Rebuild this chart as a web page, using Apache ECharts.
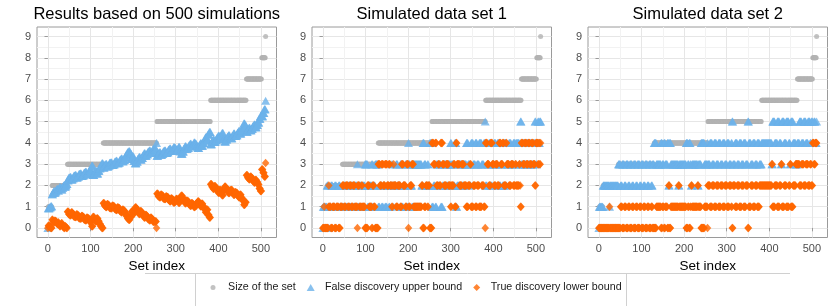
<!DOCTYPE html>
<html><head><meta charset="utf-8">
<script src="https://cdn.jsdelivr.net/npm/echarts@6/dist/echarts.min.js"></script>
<style>html,body{margin:0;padding:0;background:#fff}#c{width:839px;height:306px}</style>
</head><body><div id="c"></div>
<script>
// ---------- data (runs of [value, count] along the set index 0..511) ----------
const panelTitles = ['Results based on 500 simulations', 'Simulated data set 1', 'Simulated data set 2'];
const seriesNames = ['Size of the set', 'False discovery upper bound', 'True discovery lower bound'];
const xTicks = [0, 100, 200, 300, 400, 500];
const xMinor = [50, 150, 250, 350, 450];
const yTicks = [0, 1, 2, 3, 4, 5, 6, 7, 8, 9];
const yMinor = [0.5, 1.5, 2.5, 3.5, 4.5, 5.5, 6.5, 7.5, 8.5];

const sizeRuns = [[0,1],[1,9],[2,36],[3,84],[4,126],[5,126],[6,84],[7,36],[8,9],[9,1]];

const p1Blue = [[0,1],
 [0.92,3],[0.97,3],[1.02,3],
 [1.58,2],[1.66,2],[1.74,2],[1.66,2],[1.71,2],[1.79,2],[1.84,2],[1.76,2],[1.84,2],[1.92,2],[1.89,2],[1.81,2],[1.89,2],[1.97,2],[2.02,2],[1.94,2],[1.99,2],[2.07,2],
 [2.24,3],[2.36,3],[2.4,3],[2.28,3],[2.34,3],[2.46,3],[2.49,3],[2.37,3],[2.42,3],[2.54,3],[2.56,3],[2.44,3],[2.48,3],[2.6,3],[2.64,3],[2.52,3],[2.56,3],[2.68,3],[2.7,3],[2.92,3],[2.49,3],[2.61,3],[2.68,3],[2.56,3],[2.69,3],[2.81,3],[2.92,3],[3.04,3],
 [2.84,3],[2.96,3],[3.01,3],[2.89,3],[2.94,3],[3.06,3],[3.08,3],[2.96,3],[2.99,3],[3.11,3],[3.16,3],[3.04,3],[3.08,3],[3.2,3],[3.26,3],[3.14,3],[3.19,3],[3.31,3],[3.44,3],[3.56,3],[3.61,3],[3.49,3],[3.24,3],[3.36,3],[3.16,3],[3.04,3],[3.12,3],[3.24,3],[3.34,3],[3.22,3],[3.29,3],[3.41,3],[3.51,3],[3.39,3],[3.46,3],[3.58,3],[3.64,3],[3.52,3],[3.59,3],[3.71,3],[3.7,5],[4.0,1],
 [3.39,3],[3.51,3],[3.56,3],[3.44,3],[3.49,3],[3.61,3],[3.64,3],[3.52,3],[3.56,3],[3.68,3],[3.74,3],[3.62,3],[3.68,3],[3.8,3],[3.76,3],[3.64,3],[3.69,3],[3.81,3],[3.61,3],[3.49,3],[3.59,3],[3.71,3],[3.84,3],[3.72,3],[3.76,3],[3.88,3],[3.96,3],[3.84,3],[3.9,3],[4.02,3],[3.96,3],[3.84,3],[3.76,3],[3.88,3],[3.98,3],[3.86,3],[3.99,3],[4.11,3],[4.26,3],[4.14,3],[4.39,3],[4.51,3],
 [3.94,3],[4.06,3],[4.16,3],[4.04,3],[4.12,3],[4.24,3],[4.34,3],[4.22,3],[4.34,3],[4.46,3],[4.18,3],[4.06,3],[4.16,3],[4.28,3],[4.36,3],[4.24,3],[4.22,3],[4.34,3],[4.44,3],[4.32,3],[4.36,3],[4.48,3],[4.56,3],[4.44,3],[4.59,3],[4.71,3],[4.91,3],[4.79,3],
 [4.52,3],[4.64,3],[4.71,3],[4.59,3],[4.66,3],[4.78,3],[4.86,3],[4.74,3],[4.84,3],[4.96,3],[5.14,3],[5.26,3],
 [5.25,3],[5.4,3],[5.58,3],
 [5.98,1]];
const p1Orange = [[0,1],
 [0.1,3],[0.05,3],[0.0,3],
 [0.39,2],[0.31,2],[0.26,2],[0.34,2],[0.32,2],[0.24,2],[0.18,2],[0.26,2],[0.16,2],[0.08,2],[0.14,2],[0.22,2],[0.12,2],[0.04,2],[0.0,2],[0.08,2],[0.03,2],[0.0,2],
 [0.76,3],[0.64,3],[0.6,3],[0.72,3],[0.66,3],[0.54,3],[0.51,3],[0.63,3],[0.58,3],[0.46,3],[0.44,3],[0.56,3],[0.52,3],[0.4,3],[0.36,3],[0.48,3],[0.44,3],[0.32,3],[0.3,3],[0.08,3],[0.51,3],[0.39,3],[0.32,3],[0.44,3],[0.31,3],[0.19,3],[0.08,3],[0.0,3],
 [1.16,3],[1.04,3],[0.99,3],[1.11,3],[1.06,3],[0.94,3],[0.92,3],[1.04,3],[1.01,3],[0.89,3],[0.84,3],[0.96,3],[0.92,3],[0.8,3],[0.74,3],[0.86,3],[0.81,3],[0.69,3],[0.56,3],[0.44,3],[0.39,3],[0.51,3],[0.76,3],[0.64,3],[0.84,3],[0.96,3],[0.88,3],[0.76,3],[0.66,3],[0.78,3],[0.71,3],[0.59,3],[0.49,3],[0.61,3],[0.54,3],[0.42,3],[0.36,3],[0.48,3],[0.41,3],[0.29,3],[0.3,5],[0.0,1],
 [1.61,3],[1.49,3],[1.44,3],[1.56,3],[1.51,3],[1.39,3],[1.36,3],[1.48,3],[1.44,3],[1.32,3],[1.26,3],[1.38,3],[1.32,3],[1.2,3],[1.24,3],[1.36,3],[1.31,3],[1.19,3],[1.39,3],[1.51,3],[1.41,3],[1.29,3],[1.16,3],[1.28,3],[1.24,3],[1.12,3],[1.04,3],[1.16,3],[1.1,3],[0.98,3],[1.04,3],[1.16,3],[1.24,3],[1.12,3],[1.02,3],[1.14,3],[1.01,3],[0.89,3],[0.74,3],[0.86,3],[0.61,3],[0.49,3],
 [2.06,3],[1.94,3],[1.84,3],[1.96,3],[1.88,3],[1.76,3],[1.66,3],[1.78,3],[1.66,3],[1.54,3],[1.82,3],[1.94,3],[1.84,3],[1.72,3],[1.64,3],[1.76,3],[1.78,3],[1.66,3],[1.56,3],[1.68,3],[1.64,3],[1.52,3],[1.44,3],[1.56,3],[1.41,3],[1.29,3],[1.09,3],[1.21,3],
 [2.48,3],[2.36,3],[2.29,3],[2.41,3],[2.34,3],[2.22,3],[2.14,3],[2.26,3],[2.16,3],[2.04,3],[1.86,3],[1.74,3],
 [2.75,3],[2.6,3],[2.42,3],
 [3.05,1]];

const p2Blue = [[0,1],
 [1,2],[0,1],[1,6],
 [2,3],[1,1],[0,1],[1,4],[2,4],[1,5],[2,4],[1,5],[2,4],[1,5],
 [1,4],[2,4],[1,5],[2,4],[1,4],[2,4],[1,4],[2,6],[3,1],[1,4],[2,5],[1,2],[2,6],[3,6],[1,4],[2,6],[3,2],[1,3],[2,3],[3,7],
 [1,4],[2,4],[1,4],[2,4],[1,5],[2,4],[1,3],[2,4],[3,2],[2,2],[1,1],[2,5],[3,4],[2,6],[3,3],[1,4],[2,5],[3,3],[1,4],[4,1],[3,3],[2,4],[1,4],[3,19],[2,3],[4,3],[3,4],[2,4],[3,2],[2,3],[4,5],
 [1,4],[2,4],[1,3],[3,4],[2,3],[3,3],[1,4],[2,4],[3,5],[2,5],[3,5],[4,2],[3,5],[2,3],[4,3],[1,2],[2,6],[3,5],[2,5],[3,6],[4,4],[3,5],[2,2],[4,5],[3,5],[4,4],[3,5],[4,6],[3,5],[4,3],[5,1],
 [2,4],[3,4],[4,4],[2,4],[3,4],[4,4],[3,4],[4,4],[2,4],[3,4],[2,3],[4,5],[2,2],[3,5],[4,5],[3,5],[4,5],[3,2],[4,7],[3,2],[4,1],[5,2],
 [3,4],[4,4],[3,4],[4,4],[3,4],[4,4],[3,4],[4,4],[5,2],[3,2],
 [4,3],[5,2],[4,2],[5,2],
 [5,1]];
const p2Orange = [[0,1],
 [0,2],[1,1],[0,6],
 [0,3],[1,1],[2,1],[1,4],[0,4],[1,5],[0,4],[1,5],[0,4],[1,5],
 [2,4],[1,4],[2,5],[1,4],[2,4],[1,4],[2,4],[1,6],[0,1],[2,4],[1,5],[2,2],[1,6],[0,6],[2,4],[1,6],[0,2],[2,3],[1,3],[0,7],
 [3,4],[2,4],[3,4],[2,4],[3,5],[2,4],[3,3],[2,4],[1,2],[2,2],[3,1],[2,5],[1,4],[2,6],[1,3],[3,4],[2,5],[1,3],[3,4],[0,1],[1,3],[2,4],[3,4],[1,19],[2,3],[0,3],[1,4],[2,4],[1,2],[2,3],[0,5],
 [4,4],[3,4],[4,3],[2,4],[3,3],[2,3],[4,4],[3,4],[2,5],[3,5],[2,5],[1,2],[2,5],[3,3],[1,3],[4,2],[3,6],[2,5],[3,5],[2,6],[1,4],[2,5],[3,2],[1,5],[2,5],[1,4],[2,5],[1,6],[2,5],[1,3],[0,1],
 [4,4],[3,4],[2,4],[4,4],[3,4],[2,4],[3,4],[2,4],[4,4],[3,4],[4,3],[2,5],[4,2],[3,5],[2,5],[3,5],[2,5],[3,2],[2,7],[3,2],[2,1],[1,2],
 [4,4],[3,4],[4,4],[3,4],[4,4],[3,4],[4,4],[3,4],[2,2],[4,2],
 [4,3],[3,2],[4,2],[3,2],
 [4,1]];

const p3Blue = [[0,1],
 [1,9],
 [2,15],[1,1],[2,20],
 [3,5],[2,4],[3,5],[2,4],[3,5],[2,4],[3,5],[2,4],[3,5],[2,4],[3,5],[2,4],[3,5],[2,4],[3,5],[2,4],[3,5],[2,3],[3,4],
 [4,5],[3,11],[4,3],[3,4],[4,3],[3,5],[4,3],[2,2],[4,3],[3,18],[2,2],[3,16],[4,4],[3,3],[4,3],[3,2],[2,2],[3,13],[2,2],[3,6],[4,8],[3,7],[4,1],
 [3,5],[4,5],[3,5],[4,5],[3,5],[4,5],[3,5],[4,5],[3,5],[4,5],[3,5],[4,2],[5,2],[3,5],[4,5],[3,5],[4,5],[3,5],[4,5],[3,5],[5,2],[4,5],[3,5],[4,5],[3,5],[4,5],[3,5],
 [4,24],[3,2],[5,5],[4,6],[5,5],[4,4],[3,2],[5,5],[4,5],[5,6],[4,3],[3,2],[5,5],[4,6],[3,4],
 [4,5],[5,5],[4,5],[5,5],[4,5],[5,5],[4,3],[5,3],
 [4,3],[5,3],[4,3],
 [5,1]];
const p3Orange = [[0,1],
 [0,9],
 [0,15],[1,1],[0,20],
 [0,5],[1,4],[0,5],[1,4],[0,5],[1,4],[0,5],[1,4],[0,5],[1,4],[0,5],[1,4],[0,5],[1,4],[0,5],[1,4],[0,5],[1,3],[0,4],
 [0,5],[1,11],[0,3],[1,4],[0,3],[1,5],[0,3],[2,2],[0,3],[1,18],[2,2],[1,16],[0,4],[1,3],[0,3],[1,2],[2,2],[1,13],[2,2],[1,6],[0,8],[1,7],[0,1],
 [2,5],[1,5],[2,5],[1,5],[2,5],[1,5],[2,5],[1,5],[2,5],[1,5],[2,5],[1,2],[0,2],[2,5],[1,5],[2,5],[1,5],[2,5],[1,5],[2,5],[0,2],[1,5],[2,5],[1,5],[2,5],[1,5],[2,5],
 [2,24],[3,2],[1,5],[2,6],[1,5],[2,4],[3,2],[1,5],[2,5],[1,6],[2,3],[3,2],[1,5],[2,6],[3,4],
 [3,5],[2,5],[3,5],[2,5],[3,5],[2,5],[3,3],[2,3],
 [4,3],[3,3],[4,3],
 [4,1]];

// ---------- build ----------
function expand(runs) { const out = []; runs.forEach(([v, n]) => { for (let k = 0; k < n; k++) out.push(v); }); return out; }
function pts(runs) { return expand(runs).map((v, i) => [i, v]); }

const FONT = "'Liberation Sans', Arial, Helvetica, sans-serif";
const panels = [[p1Blue, p1Orange], [p2Blue, p2Orange], [p3Blue, p3Orange]];
const gridLefts = [37, 312, 588];
const gridW = 239.5, gridTop = 27, gridH = 210.5;
const XMIN = -25.55, XMAX = 536.55, YMIN = -0.45, YMAX = 9.45;
const BORDER = '#9a9a9a';

const grids = [], xAxes = [], yAxes = [], series = [], titles = [];
panels.forEach(([blue, orange], k) => {
  grids.push({left: gridLefts[k], top: gridTop, width: gridW, height: gridH, show: true,
    borderColor: BORDER, borderWidth: 1, backgroundColor: '#fff', containLabel: false});
  titles.push({text: panelTitles[k], left: gridLefts[k] + gridW / 2, top: 6, textAlign: 'center', padding: 0,
    textStyle: {fontSize: 16.5, fontWeight: 'normal', color: '#000', fontFamily: FONT}});
  xAxes[k] = {type: 'value', gridIndex: k, min: XMIN, max: XMAX, position: 'bottom',
    axisLine: {show: false},
    axisTick: {show: true, customValues: xTicks, length: 3.4, lineStyle: {color: BORDER, width: 1}},
    axisLabel: {show: true, customValues: xTicks, margin: 6, fontSize: 11, color: '#4d4d4d', fontFamily: FONT},
    splitLine: {show: true, lineStyle: {color: '#e6e6e6', width: 1}},
    name: 'Set index', nameLocation: 'middle', nameGap: 16,
    nameTextStyle: {fontSize: 13.5, color: '#000', fontFamily: FONT}};
  xAxes[3 + k] = {type: 'value', gridIndex: k, min: XMIN, max: XMAX, position: 'top',
    axisLine: {show: false},
    axisTick: {show: false, customValues: xMinor},
    axisLabel: {show: false, customValues: xMinor},
    splitLine: {show: true, lineStyle: {color: '#f2f2f2', width: 1}}};
  yAxes[k] = {type: 'value', gridIndex: k, min: YMIN, max: YMAX, position: 'left',
    axisLine: {show: false},
    axisTick: {show: true, customValues: yTicks, length: 3.4, lineStyle: {color: BORDER, width: 1}},
    axisLabel: {show: true, customValues: yTicks, margin: 6, fontSize: 11, color: '#4d4d4d', fontFamily: FONT},
    splitLine: {show: true, lineStyle: {color: '#e6e6e6', width: 1}}};
  yAxes[3 + k] = {type: 'value', gridIndex: k, min: YMIN, max: YMAX, position: 'right',
    axisLine: {show: false},
    axisTick: {show: false, customValues: yMinor},
    axisLabel: {show: false, customValues: yMinor},
    splitLine: {show: true, lineStyle: {color: '#f2f2f2', width: 1}}};
  series.push({type: 'scatter', name: seriesNames[0], xAxisIndex: k, yAxisIndex: k, symbol: 'circle', symbolSize: 5,
    itemStyle: {color: '#b3b3b3'}, data: pts(sizeRuns), silent: true, animation: false});
  series.push({type: 'scatter', name: seriesNames[1], xAxisIndex: k, yAxisIndex: k, symbol: 'triangle', symbolSize: [9, 8],
    itemStyle: {color: '#6cb2ea'}, data: pts(blue), silent: true, animation: false});
  series.push({type: 'scatter', name: seriesNames[2], xAxisIndex: k, yAxisIndex: k, symbol: 'diamond', symbolSize: [7.5, 8.5],
    itemStyle: {color: '#ff6600'}, data: pts(orange), silent: true, animation: false});
});

const legendCommon = {orient: 'horizontal', top: 282, padding: 0, selectedMode: false,
  textStyle: {fontSize: 10.7, color: '#1a1a1a', fontFamily: FONT}};
const legends = [
  Object.assign({}, legendCommon, {data: [{name: seriesNames[0], icon: 'circle'}], left: 210.5, itemWidth: 5, itemHeight: 5,
    textStyle: Object.assign({}, legendCommon.textStyle, {padding: [0, 0, 0, 7.5]})}),
  Object.assign({}, legendCommon, {data: [{name: seriesNames[1], icon: 'triangle'}], left: 306.7, itemWidth: 8, itemHeight: 7,
    textStyle: Object.assign({}, legendCommon.textStyle, {padding: [0, 0, 0, 5.3]})}),
  Object.assign({}, legendCommon, {data: [{name: seriesNames[2], icon: 'diamond'}], left: 473.2, itemWidth: 7, itemHeight: 7,
    textStyle: Object.assign({}, legendCommon.textStyle, {padding: [0, 0, 0, 5.5]})})
];

const chart = echarts.init(document.getElementById('c'), null, {renderer: 'canvas'});
chart.setOption({
  animation: false,
  backgroundColor: '#fff',
  title: titles,
  grid: grids,
  xAxis: xAxes,
  yAxis: yAxes,
  legend: legends,
  series: series,
  graphic: [
    {type: 'line', shape: {x1: 145, y1: 273.5, x2: 790, y2: 273.5}, style: {stroke: '#d0d0d0', lineWidth: 1}, silent: true},
    {type: 'line', shape: {x1: 195.5, y1: 273.5, x2: 195.5, y2: 306}, style: {stroke: '#d0d0d0', lineWidth: 1}, silent: true},
    {type: 'line', shape: {x1: 626.5, y1: 273.5, x2: 626.5, y2: 306}, style: {stroke: '#d0d0d0', lineWidth: 1}, silent: true}
  ]
});
</script>
</body></html>
